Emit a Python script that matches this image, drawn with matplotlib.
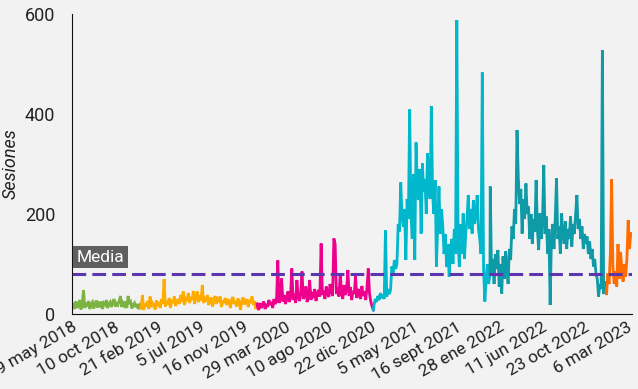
import pandas as pd
import matplotlib
matplotlib.use("Agg")
import matplotlib.pyplot as plt

plt.rcParams["font.family"] = ["Roboto", "DejaVu Sans"]

# sessions, one value every 4 days, split by year
s2018 = [14, 22, 10, 25, 12, 18, 28, 9, 20, 48,
         12, 22, 15, 26, 10, 20, 24, 11, 19, 27,
         13, 21, 17, 25, 10, 22, 19, 28, 12, 20,
         24, 14, 23, 30, 15, 21, 18, 26, 36, 14,
         22, 17, 25, 12, 36, 20, 24, 11, 18, 22,
         14, 20, 10, 17, 12]
s2019 = [12, 38, 8, 20, 15, 26, 10, 35, 14, 22,
         18, 9, 27, 16, 24, 12, 30, 20, 70, 15,
         26, 18, 32, 12, 28, 22, 35, 16, 25, 30,
         20, 38, 24, 45, 18, 30, 26, 42, 22, 34,
         28, 46, 20, 36, 45, 24, 32, 27, 58, 22,
         30, 25, 38, 18, 28, 33, 15, 26, 36, 20,
         29, 24, 35, 14, 27, 22, 32, 18, 30, 25,
         12, 28, 34, 20, 26, 15, 31, 23, 8, 27,
         33, 19, 25, 30, 14, 28, 22, 35, 18, 26,
         10, 20]
s2020 = [15, 8, 22, 12, 18, 25, 10, 20, 14, 28,
         18, 24, 12, 30, 20, 26, 107, 22, 35, 71,
         25, 38, 20, 30, 45, 24, 36, 91, 28, 40,
         22, 68, 34, 26, 42, 85, 30, 38, 55, 24,
         36, 68, 28, 44, 32, 50, 26, 40, 48, 35,
         141, 38, 46, 30, 55, 42, 34, 60, 45, 36,
         151, 140, 40, 52, 35, 81, 44, 30, 58, 38,
         48, 88, 36, 54, 28, 46, 40, 75, 32, 50,
         42, 30, 56, 36, 45, 28, 52, 91, 40, 25,
         15, 8]
s2021 = [18, 30, 24, 36, 28, 42, 32, 38, 30, 167,
         35, 50, 40, 48, 95, 82, 108, 90, 100, 180,
         165, 263, 195, 175, 210, 108, 230, 190, 409, 200,
         150, 280, 108, 343, 250, 228, 290, 161, 301, 245,
         270, 200, 321, 260, 230, 416, 240, 200, 268, 95,
         180, 255, 160, 210, 175, 120, 160, 94, 140, 75,
         130, 150, 100, 170, 120, 588, 140, 94, 180, 120,
         201, 110, 160, 190, 238, 170, 210, 161, 228, 180,
         200, 238, 170, 150, 120, 483, 90, 25, 70, 100,
         60, 80]
s2022 = [255, 80, 110, 60, 120, 90, 128, 55, 100, 41,
         115, 70, 125, 95, 60, 130, 108, 175, 150, 210,
         180, 368, 274, 220, 250, 161, 230, 190, 261, 200,
         215, 150, 200, 140, 190, 165, 268, 170, 128, 201,
         150, 185, 298, 160, 195, 121, 170, 18, 150, 180,
         130, 190, 271, 150, 175, 121, 201, 160, 140, 185,
         130, 170, 150, 195, 135, 180, 160, 200, 238, 170,
         190, 150, 175, 130, 160, 140, 155, 120, 145, 110,
         130, 95, 110, 80, 70, 35, 60, 50, 528, 40,
         65, 45]
s2023 = [38, 81, 60, 120, 269, 95, 60, 85, 55, 140,
         70, 124, 90, 65, 100, 75, 110, 188, 130, 161]

starts = ["2018-05-29", "2019-01-01", "2020-01-01", "2021-01-01", "2022-01-01", "2023-01-01"]
series = [s2018, s2019, s2020, s2021, s2022, s2023]
colors = ["#7cb342", "#ffab00", "#ec008c", "#00b7cc", "#0f9aa8", "#ff6d00"]

MEDIA = 80

tick_dates = pd.date_range("2018-05-29", periods=14, freq="134D")
tick_labels = ["29 may 2018", "10 oct 2018", "21 feb 2019", "5 jul 2019", "16 nov 2019",
               "29 mar 2020", "10 ago 2020", "22 dic 2020", "5 may 2021", "16 sept 2021",
               "28 ene 2022", "11 jun 2022", "23 oct 2022", "6 mar 2023"]

fig = plt.figure(figsize=(6.38, 3.89), dpi=100)
fig.patch.set_facecolor("#f2f2f2")
ax = fig.add_axes([0.1129, 0.1928, 0.8777, 0.7712])
ax.set_facecolor("#f2f2f2")

prev = None
for start, vals, col in zip(starts, series, colors):
    d = pd.Series(vals, index=pd.date_range(start, periods=len(vals), freq="4D"))
    if prev is not None:
        d = pd.concat([prev.iloc[-1:], d])
    ax.plot(d.index, d.values, color=col, lw=2.0, solid_joinstyle="miter")
    prev = d

ax.axhline(MEDIA, color="#5e35b1", lw=2.2, dashes=(4.5, 2))
ax.text(pd.Timestamp("2018-06-12"), 114, "Media", color="white", fontsize=12.5,
        va="center", ha="left",
        bbox=dict(boxstyle="square,pad=0.22", fc="#5f5f5f", ec="none"))

ax.set_xlim(pd.Timestamp("2018-05-29"), pd.Timestamp("2023-03-22"))
ax.set_ylim(0, 600)
ax.set_yticks([0, 200, 400, 600])
ax.set_xticks(tick_dates)
ax.set_xticklabels(tick_labels, rotation=30, ha="right", rotation_mode="anchor")
ax.tick_params(axis="x", length=0, labelsize=12.5, colors="#222222", pad=4)
ax.tick_params(axis="y", length=0, labelsize=13, colors="#222222", pad=12)
ax.set_ylabel("Sesiones", fontsize=13, style="italic", color="#222222", labelpad=4)
for side in ["top", "right"]:
    ax.spines[side].set_visible(False)
ax.spines["left"].set_color("#111111")
ax.spines["bottom"].set_color("#111111")

plt.savefig("out.png", dpi=100, facecolor=fig.get_facecolor())
